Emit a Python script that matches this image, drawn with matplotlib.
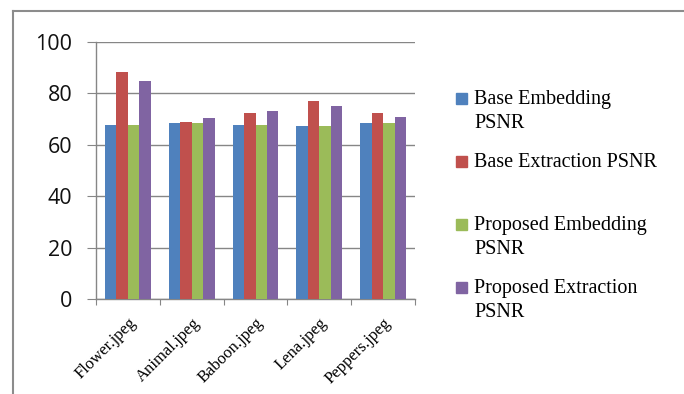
import numpy as np
import matplotlib
matplotlib.use("Agg")
import matplotlib.pyplot as plt
from matplotlib.patches import Rectangle
from matplotlib.lines import Line2D

# PSNR values per test image
images = ["Flower.jpeg", "Animal.jpeg", "Baboon.jpeg", "Lena.jpeg", "Peppers.jpeg"]
base_embed = [67.8, 68.3, 67.8, 67.4, 68.3]
base_extract = [88.2, 69.0, 72.5, 76.9, 72.5]
prop_embed = [67.8, 68.3, 67.8, 67.4, 68.3]
prop_extract = [84.9, 70.4, 73.0, 74.9, 70.9]

series = [
    ("Base Embedding\nPSNR", base_embed, "#4F81BD"),
    ("Base Extraction PSNR", base_extract, "#C0504D"),
    ("Proposed Embedding\nPSNR", prop_embed, "#9BBB59"),
    ("Proposed Extraction\nPSNR", prop_extract, "#8064A2"),
]

fig = plt.figure(figsize=(6.84, 3.94), dpi=100)
ax = fig.add_axes([0.1404, 0.2403, 0.4663, 0.6539])

x = np.arange(len(images))
w = 0.18
for i, (name, vals, col) in enumerate(series):
    ax.bar(x + (i - 1.5) * w, vals, w, color=col, zorder=3)

ax.set_xlim(-0.5, len(images) - 0.5)
ax.set_ylim(0, 100)
ax.set_yticks([0, 20, 40, 60, 80, 100])
ax.yaxis.grid(True, color="#868686", linewidth=1.0, zorder=0)
for s in ["top", "right"]:
    ax.spines[s].set_visible(False)
for s in ["left", "bottom"]:
    ax.spines[s].set_color("#868686")
    ax.spines[s].set_linewidth(1.0)

ax.tick_params(axis="y", length=6.5, color="#868686", pad=10.5, labelsize=15.5)
ax.set_yticklabels([str(v) for v in [0, 20, 40, 60, 80, 100]],
                   family="Open Sans", color="#111111")

# category ticks sit on the group boundaries
ax.set_xticks(np.arange(len(images) + 1) - 0.5)
ax.set_xticklabels([])
ax.tick_params(axis="x", which="major", length=4, color="#868686")
ax.set_xticks(x, minor=True)
ax.set_xticklabels(images, minor=True, rotation=45, ha="right", va="top",
                   rotation_mode="anchor", family="Liberation Serif", fontsize=12)
ax.tick_params(axis="x", which="minor", length=0, pad=11)

# legend drawn to the right of the plot
ys = [0.749, 0.589, 0.429, 0.269]
for (name, vals, col), y in zip(series, ys):
    fig.patches.append(Rectangle((0.667, y - 0.013), 0.0155, 0.027,
                                 transform=fig.transFigure, color=col))
    fig.text(0.693, y + 0.022, name, ha="left", va="top", fontsize=14.5,
             family="Liberation Serif", linespacing=1.35)

# outer chart frame
fig.lines.append(Line2D([0.019, 0.019], [0.0, 0.972], transform=fig.transFigure,
                        color="#8c8c8c", linewidth=1.5))
fig.lines.append(Line2D([0.019, 1.0], [0.972, 0.972], transform=fig.transFigure,
                        color="#8c8c8c", linewidth=1.5))

fig.savefig("out.png", dpi=100)
